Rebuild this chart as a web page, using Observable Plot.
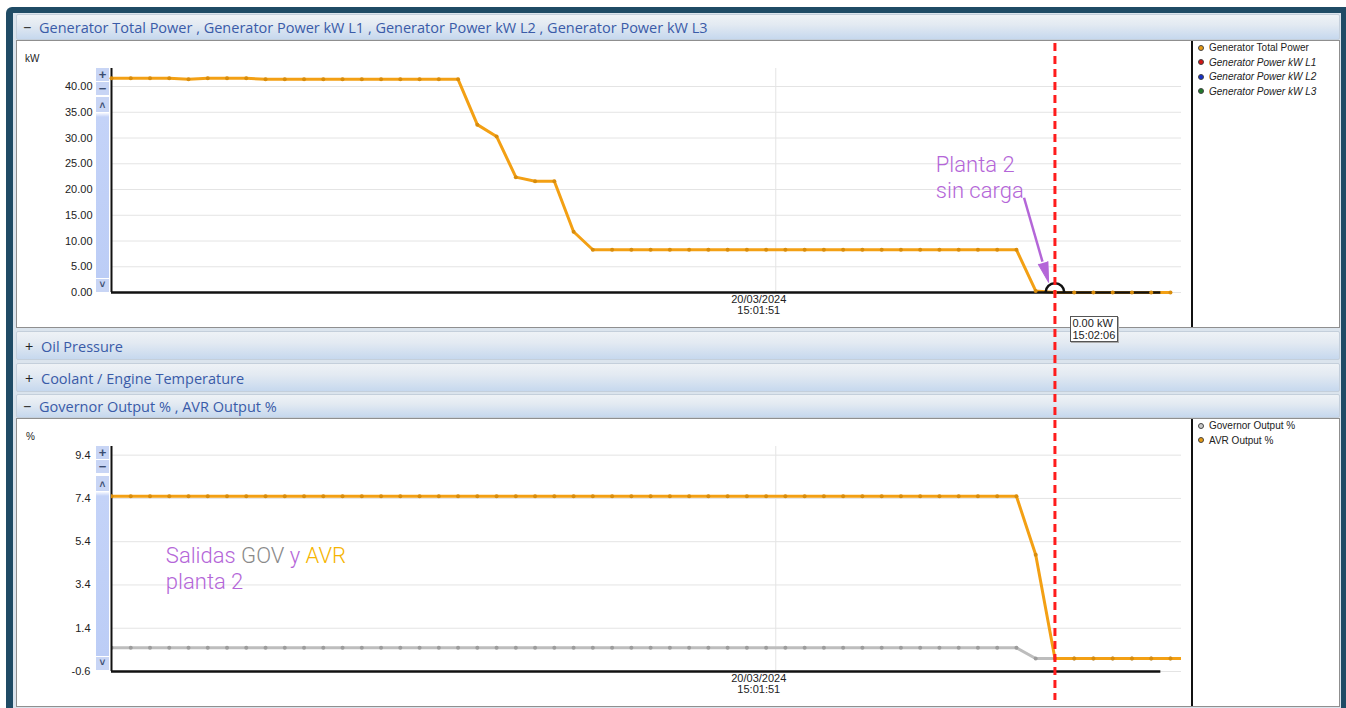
<!DOCTYPE html>
<html>
<head>
<meta charset="utf-8">
<script src="https://cdn.jsdelivr.net/npm/d3@7"></script>
<script src="https://cdn.jsdelivr.net/npm/@observablehq/plot@0.6"></script>
<style>
html,body{margin:0;padding:0}
body{width:1346px;height:708px;overflow:hidden;background:#fff;position:relative;font-family:"Liberation Sans",Arial,sans-serif}
.a{position:absolute}
#frame{left:6px;top:7px;width:1340px;height:701px;background:#1f4b65;border-top-left-radius:6px}
#panel{left:13px;top:13px;width:1328px;height:695px;background:#dbe4ed}
.hdr{position:absolute;left:16px;width:1324px;box-sizing:border-box;border:1px solid #c4cfdb;border-radius:2px;background:linear-gradient(#eef2f6 0%,#e3eaf2 40%,#c6d8ee 100%);font-family:"Open Sans",sans-serif;font-size:14.5px;color:#3a5ba8}
.hdr span{position:absolute;top:50%;transform:translateY(-48%);white-space:nowrap}
.hdr .s{left:6px;color:#222}
.hdr .t{left:22px}
.area{position:absolute;left:16px;width:1324px;box-sizing:border-box;background:#fff;border:1px solid #8f8f8f}
.sep{position:absolute;left:1191px;width:2px;background:#111}
.unit{position:absolute;font-size:10px;color:#222}
.sb{position:absolute;left:96px;width:13px;background:#c8d5f5;color:#3b4c70;text-align:center;font-size:13px;font-weight:bold;overflow:hidden}
.bar{position:absolute;left:96px;width:13px;background:linear-gradient(#f6f8ff 0,#c4d3f8 4px,#bccdf6 100%)}
.legend{position:absolute;font-size:10px;color:#222}
.legend div{height:14.5px;line-height:14.5px;white-space:nowrap}
.legend .d{display:inline-block;width:4px;height:4px;border-radius:50%;border:1px solid #444;margin:0 5px 1px 2px;vertical-align:middle}
#tip{position:absolute;background:#fff;border:1px solid #555;font-size:11px;line-height:12px;padding:0 2px 0 1px;color:#222;box-shadow:1px 1px 0 #aaa;white-space:nowrap}
svg{position:absolute;overflow:visible}
</style>
</head>
<body>
<div id="frame" class="a"></div>
<div id="panel" class="a"></div>

<div class="hdr" style="top:14px;height:26px"><span class="s">−</span><span class="t" id="h1"></span></div>
<div class="area" style="top:40px;height:288px"></div>
<div class="sep" style="top:41px;height:286px"></div>

<div class="hdr" style="top:331px;height:29px"><span class="s" style="left:8px">+</span><span class="t" id="h2" style="left:24px"></span></div>
<div class="hdr" style="top:363px;height:29px"><span class="s" style="left:8px">+</span><span class="t" id="h3" style="left:24px"></span></div>
<div class="hdr" style="top:394px;height:24px"><span class="s">−</span><span class="t" id="h4"></span></div>
<div class="area" style="top:418px;height:289px"></div>
<div class="sep" style="top:419px;height:287px"></div>

<div class="unit" style="left:25px;top:53px">kW</div>
<div class="unit" style="left:26px;top:431px">%</div>

<div class="sb" style="top:68px;height:13px;line-height:13px">+</div>
<div class="sb" style="top:82px;height:13px;line-height:13px">−</div>
<div class="sb" style="top:97px;height:15px;line-height:17px;font-size:10px">˄</div>
<div class="bar" style="top:113px;height:165px"></div>
<div class="sb" style="top:279px;height:13px;line-height:11px;font-size:10px">˅</div>

<div class="sb" style="top:446px;height:13px;line-height:13px">+</div>
<div class="sb" style="top:460px;height:13px;line-height:13px">−</div>
<div class="sb" style="top:476px;height:15px;line-height:17px;font-size:10px">˄</div>
<div class="bar" style="top:492px;height:164px"></div>
<div class="sb" style="top:657px;height:13px;line-height:11px;font-size:10px">˅</div>

<div class="legend" id="leg1" style="left:1196px;top:41px"></div>
<div class="legend" id="leg2" style="left:1196px;top:419px"></div>

<div id="root"></div>

<script>
// ---------- data ----------
const panelTitles = [
  "Generator Total Power , Generator Power kW L1 , Generator Power kW L2 , Generator Power kW L3",
  "Oil Pressure",
  "Coolant / Engine Temperature",
  "Governor Output % , AVR Output %"
];
const legend1Names = ["Generator Total Power", "Generator Power kW L1", "Generator Power kW L2", "Generator Power kW L3"];
const legend1Colors = ["#e69a12", "#d41414", "#1530c8", "#1f7a2a"];
const legend2Names = ["Governor Output %", "AVR Output %"];
const legend2Colors = ["#c8c8c8", "#e69a12"];

// sampling clock of the logger
const sampleStart = "2024-03-20T15:01:15.310";
const sampleStepMs = 1034.5;
const viewEnd = "2024-03-20T15:02:12.800";
const axisEnd = "2024-03-20T15:02:11.690";
const gridTime = "2024-03-20T15:01:51";
const eventTime = "2024-03-20T15:02:06";

// Generator Total Power (kW)
const genTotalPower = [
  41.6, 41.6, 41.6, 41.6, 41.4, 41.6, 41.6, 41.6,
  41.4, 41.4, 41.4, 41.4, 41.4, 41.4, 41.4, 41.4, 41.4, 41.4, 41.4,
  32.6, 30.3, 22.4, 21.6, 21.6, 11.8, 8.3,
  8.3, 8.3, 8.3, 8.3, 8.3, 8.3, 8.3, 8.3, 8.3, 8.3, 8.3,
  8.3, 8.3, 8.3, 8.3, 8.3, 8.3, 8.3, 8.3, 8.3, 8.3, 8.3,
  0.3, 0, 0, 0, 0, 0, 0, 0
];
// Governor Output % and AVR Output %
const govOutput = [
  0.5, 0.5, 0.5, 0.5, 0.5, 0.5, 0.5, 0.5, 0.5, 0.5, 0.5, 0.5,
  0.5, 0.5, 0.5, 0.5, 0.5, 0.5, 0.5, 0.5, 0.5, 0.5, 0.5, 0.5,
  0.5, 0.5, 0.5, 0.5, 0.5, 0.5, 0.5, 0.5, 0.5, 0.5, 0.5, 0.5,
  0.5, 0.5, 0.5, 0.5, 0.5, 0.5, 0.5, 0.5, 0.5, 0.5, 0.5, 0.5,
  0, 0, 0, 0, 0, 0, 0, 0, 0
];
const avrOutput = [
  7.5, 7.5, 7.5, 7.5, 7.5, 7.5, 7.5, 7.5, 7.5, 7.5, 7.5, 7.5,
  7.5, 7.5, 7.5, 7.5, 7.5, 7.5, 7.5, 7.5, 7.5, 7.5, 7.5, 7.5,
  7.5, 7.5, 7.5, 7.5, 7.5, 7.5, 7.5, 7.5, 7.5, 7.5, 7.5, 7.5,
  7.5, 7.5, 7.5, 7.5, 7.5, 7.5, 7.5, 7.5, 7.5, 7.5, 7.5, 7.5,
  4.8, 0, 0, 0, 0, 0, 0, 0, 0
];
const powerTicks = [0, 5, 10, 15, 20, 25, 30, 35, 40];
const percentTicks = [-0.6, 1.4, 3.4, 5.4, 7.4, 9.4];
const powerDomain = [0, 43.5];
const percentDomain = [-0.6, 9.8];

// annotations (data coordinates)
const noteLoad = [{t: "2024-03-20T15:01:59.600", v: 22.5, text: "Planta 2\nsin carga"}];
const noteArrow = [{t1: "2024-03-20T15:02:04.340", v1: 18.4, t2: "2024-03-20T15:02:05.330", v2: 6.0, tip: "2024-03-20T15:02:05.660", vtip: 2.0}];
const noteOutputs = [{t: "2024-03-20T15:01:18.230", v: 4.2, text: "Salidas GOV y AVR\nplanta 2"}];
const tipText = ["0.00 kW", "15:02:06"];

// ---------- build ----------
const P = s => new Date(s);
const t0 = +P(sampleStart);
const times = avrOutput.map((_, i) => new Date(t0 + i * sampleStepMs));
const genRows = genTotalPower.map((v, i) => ({t: times[i], v}));
const govRows = govOutput.map((v, i) => ({t: times[i], v}));
const avrRows = avrOutput.map((v, i) => ({t: times[i], v}));
const xDomain = [P(sampleStart), P(viewEnd)];

["h1","h2","h3","h4"].forEach((id, i) => document.getElementById(id).textContent = panelTitles[i]);
function legend(el, names, colors, italicFrom) {
  names.forEach((n, i) => {
    const d = document.createElement("div");
    const dot = document.createElement("span");
    dot.className = "d"; dot.style.background = colors[i];
    d.appendChild(dot);
    const s = document.createElement("span");
    s.textContent = n;
    if (i >= italicFrom) s.style.fontStyle = "italic";
    d.appendChild(s);
    el.appendChild(d);
  });
}
legend(document.getElementById("leg1"), legend1Names, legend1Colors, 1);
legend(document.getElementById("leg2"), legend2Names, legend2Colors, 99);

const lineColor = "#f3a014", dotColor = "#d88c0c", purple = "#b466d8";
const xFmt = d3.timeFormat("%d/%m/%Y\n%H:%M:%S");
const common = {
  width: 1176, marginLeft: 95, marginRight: 11, marginTop: 28, marginBottom: 35,
  style: {fontFamily: "'Liberation Sans', Arial, sans-serif", fontSize: "11px", color: "#222", background: "transparent", overflow: "visible"}
};

const p1 = Plot.plot({
  ...common, height: 287,
  x: {type: "time", domain: xDomain},
  y: {domain: powerDomain},
  marks: [
    Plot.gridY(powerTicks, {stroke: "#e4e4e4", strokeOpacity: 1}),
    Plot.gridX([P(gridTime)], {stroke: "#e4e4e4", strokeOpacity: 1}),
    Plot.axisY({ticks: powerTicks, tickSize: 0, tickPadding: 19, tickFormat: d => d.toFixed(2), label: null}),
    Plot.axisX({ticks: [P(gridTime)], tickSize: 0, tickPadding: 3, tickFormat: xFmt, dx: -17, label: null, fontSize: 11}),
    Plot.line(genRows, {x: "t", y: "v", stroke: lineColor, strokeWidth: 3}),
    Plot.ruleY([0], {x1: P(sampleStart), x2: P(axisEnd), stroke: "#111", strokeWidth: 2.5}),
    Plot.ruleX([P(sampleStart)], {y1: powerDomain[0], y2: powerDomain[1], stroke: "#111", strokeWidth: 2}),
    Plot.dot(genRows, {x: "t", y: "v", r: 2, fill: dotColor}),
    Plot.dot([{t: P(eventTime), v: 0}], {x: "t", y: "v", r: 9.3, stroke: "#111", strokeWidth: 2.5, fill: "none", clip: true}),
    Plot.text(noteLoad, {x: d => P(d.t), y: "v", text: "text", textAnchor: "start", fontSize: 22, fontWeight: 300, fontFamily: "Roboto", fill: purple, lineHeight: 1.18}),
    Plot.link(noteArrow, {x1: d => P(d.t1), y1: "v1", x2: d => P(d.t2), y2: "v2", stroke: purple, strokeWidth: 2.5}),
    Plot.vector(noteArrow, {x: d => P(d.tip), y: "vtip", length: 20, r: 5, rotate: 164, anchor: "end", shape: "spike", fill: purple, stroke: purple, strokeWidth: 1})
  ]
});
p1.style.left = "16px"; p1.style.top = "40px";

const p2 = Plot.plot({
  ...common, height: 288,
  x: {type: "time", domain: xDomain},
  y: {domain: percentDomain},
  marks: [
    Plot.gridY(percentTicks, {stroke: "#e4e4e4", strokeOpacity: 1}),
    Plot.gridX([P(gridTime)], {stroke: "#e4e4e4", strokeOpacity: 1}),
    Plot.axisY({ticks: percentTicks, tickSize: 0, tickPadding: 21, tickFormat: d => d.toFixed(1), label: null}),
    Plot.axisX({ticks: [P(gridTime)], tickSize: 0, tickPadding: 3, tickFormat: xFmt, dx: -17, label: null, fontSize: 11}),
    Plot.line(govRows, {x: "t", y: "v", stroke: "#bdbdbd", strokeWidth: 3, clip: true}),
    Plot.dot(govRows, {x: "t", y: "v", r: 2, fill: "#9c9c9c", clip: true}),
    Plot.line(avrRows, {x: "t", y: "v", stroke: lineColor, strokeWidth: 3, clip: true}),
    Plot.ruleY([percentDomain[0]], {x1: P(sampleStart), x2: P(axisEnd), stroke: "#111", strokeWidth: 2.5}),
    Plot.ruleX([P(sampleStart)], {y1: percentDomain[0], y2: percentDomain[1], stroke: "#111", strokeWidth: 2}),
    Plot.dot(avrRows, {x: "t", y: "v", r: 2, fill: dotColor, clip: true}),
    Plot.text(noteOutputs, {x: d => P(d.t), y: "v", text: "text", textAnchor: "start", fontSize: 22, fontWeight: 300, fontFamily: "Roboto", fill: purple, lineHeight: 1.18})
  ]
});
p2.style.left = "16px"; p2.style.top = "418px";

// colour the words GOV / AVR of the note
d3.select(p2).selectAll("tspan").filter(function() { return this.textContent === "Salidas GOV y AVR"; }).each(function() {
  const ts = d3.select(this); ts.text("").style("white-space", "pre");
  [["Salidas ", purple], ["GOV", "#8a8a8a"], [" y ", purple], ["AVR", "#f6b400"]].forEach(([w, c]) => ts.append("tspan").attr("fill", c).text(w));
});

const p3 = Plot.plot({
  width: 1176, height: 668, marginLeft: 95, marginRight: 11, marginTop: 3, marginBottom: 8,
  style: {background: "transparent", overflow: "visible"},
  x: {type: "time", domain: xDomain, axis: null},
  marks: [Plot.ruleX([P(eventTime)], {stroke: "#ff1c1c", strokeWidth: 3, strokeDasharray: "8,5"})]
});
p3.style.left = "16px"; p3.style.top = "40px"; p3.style.pointerEvents = "none";

const root = document.getElementById("root");
root.appendChild(p1); root.appendChild(p2);

const tip = document.createElement("div");
tip.id = "tip";
tip.innerHTML = tipText.join("<br>");
tip.style.left = (16 + p1.scale("x").apply(P(eventTime)) + 16) + "px";
tip.style.top = "316px";
root.appendChild(tip);
root.appendChild(p3);
</script>
</body>
</html>
